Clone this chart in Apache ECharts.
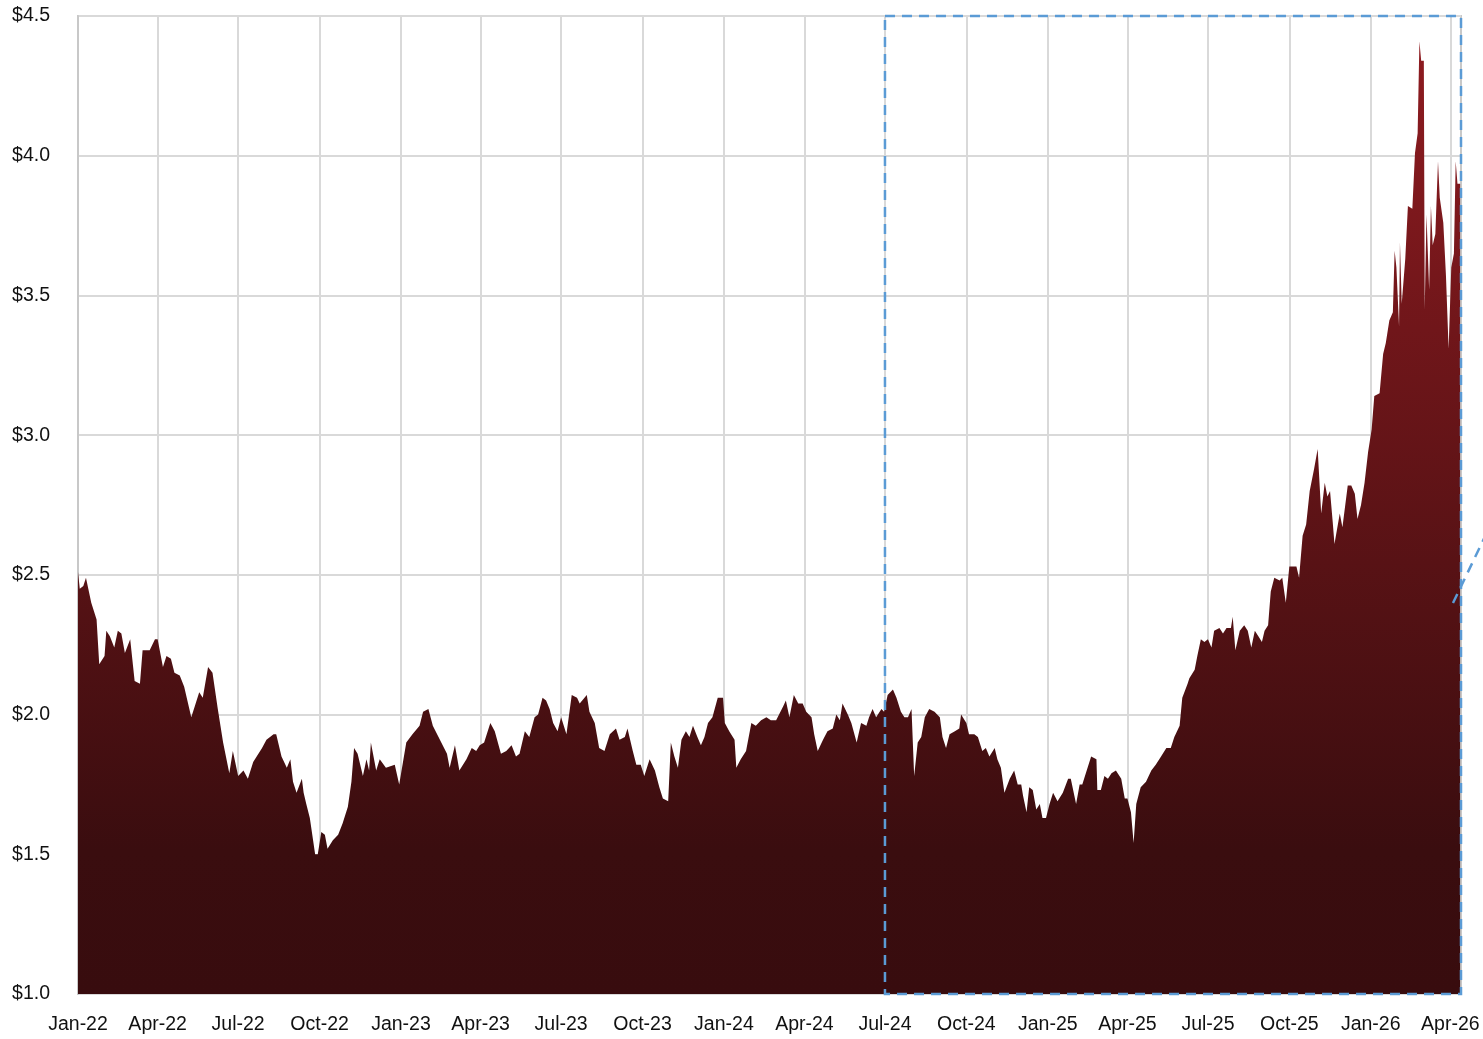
<!DOCTYPE html>
<html>
<head>
<meta charset="utf-8">
<script src="https://cdn.jsdelivr.net/npm/echarts@6/dist/echarts.min.js"></script>
<style>
  html, body { margin: 0; padding: 0; background: #fff; }
  #chart { width: 1483px; height: 1039px; }
</style>
</head>
<body>
<div id="chart"></div>
<script>
// price series
const dates = [
  '2022-01-01','2022-01-03','2022-01-07','2022-01-10','2022-01-16','2022-01-22','2022-01-25','2022-01-31','2022-02-02','2022-02-06',
  '2022-02-11','2022-02-15','2022-02-19','2022-02-23','2022-03-01','2022-03-06','2022-03-12','2022-03-15','2022-03-23','2022-03-29',
  '2022-04-01','2022-04-07','2022-04-11','2022-04-16','2022-04-20','2022-04-26','2022-05-01','2022-05-09','2022-05-13','2022-05-18',
  '2022-05-22','2022-05-28','2022-06-02','2022-06-08','2022-06-14','2022-06-21','2022-06-25','2022-07-01','2022-07-07','2022-07-12',
  '2022-07-18','2022-07-28','2022-08-02','2022-08-10','2022-08-13','2022-08-19','2022-08-25','2022-08-29','2022-09-01','2022-09-05',
  '2022-09-11','2022-09-13','2022-09-16','2022-09-20','2022-09-26','2022-09-29','2022-10-03','2022-10-07','2022-10-10','2022-10-16',
  '2022-10-22','2022-10-27','2022-11-02','2022-11-06','2022-11-09','2022-11-13','2022-11-19','2022-11-23','2022-11-26','2022-11-28',
  '2022-12-04','2022-12-08','2022-12-15','2022-12-25','2022-12-30',
  '2023-01-07','2023-01-14','2023-01-22','2023-01-26','2023-02-01','2023-02-06','2023-02-14','2023-02-22','2023-02-25','2023-03-03',
  '2023-03-08','2023-03-16','2023-03-22','2023-03-27','2023-03-31','2023-04-05','2023-04-12','2023-04-17','2023-04-24','2023-04-30',
  '2023-05-06','2023-05-11','2023-05-15','2023-05-21','2023-05-26','2023-06-01','2023-06-05','2023-06-10','2023-06-14','2023-06-18',
  '2023-06-22','2023-06-27','2023-07-01','2023-07-07','2023-07-13','2023-07-19','2023-07-22','2023-07-30','2023-08-02','2023-08-08',
  '2023-08-13','2023-08-19','2023-08-25','2023-09-01','2023-09-05','2023-09-11','2023-09-14','2023-09-20','2023-09-24','2023-09-29',
  '2023-10-03','2023-10-09','2023-10-15','2023-10-20','2023-10-24','2023-10-30','2023-11-02','2023-11-06','2023-11-10','2023-11-14',
  '2023-11-19','2023-11-23','2023-11-27','2023-12-02','2023-12-06','2023-12-10','2023-12-14','2023-12-19','2023-12-25','2023-12-31',
  '2024-01-02','2024-01-07','2024-01-13','2024-01-15','2024-01-20','2024-01-26','2024-02-01','2024-02-06','2024-02-12','2024-02-18',
  '2024-02-23','2024-02-29','2024-03-08','2024-03-11','2024-03-15','2024-03-20','2024-03-25','2024-03-30','2024-04-03','2024-04-09',
  '2024-04-12','2024-04-16','2024-04-22','2024-04-27','2024-05-03','2024-05-07','2024-05-11','2024-05-14','2024-05-20','2024-05-24',
  '2024-05-30','2024-06-04','2024-06-10','2024-06-13','2024-06-17','2024-06-21','2024-06-27','2024-06-30','2024-07-04','2024-07-10',
  '2024-07-14','2024-07-19','2024-07-23','2024-07-27','2024-07-31','2024-08-03','2024-08-07','2024-08-11','2024-08-15','2024-08-20',
  '2024-08-26','2024-09-01','2024-09-04','2024-09-08','2024-09-12','2024-09-18','2024-09-23','2024-09-25','2024-10-01','2024-10-04',
  '2024-10-10','2024-10-14','2024-10-19','2024-10-23','2024-10-27','2024-11-02','2024-11-05','2024-11-09','2024-11-13','2024-11-19',
  '2024-11-24','2024-11-28','2024-12-02','2024-12-04','2024-12-08','2024-12-11','2024-12-15','2024-12-19','2024-12-23','2024-12-26',
  '2024-12-30',
  '2025-01-03','2025-01-07','2025-01-12','2025-01-18','2025-01-24','2025-01-27','2025-02-02','2025-02-06','2025-02-09','2025-02-13',
  '2025-02-19','2025-02-25','2025-02-26','2025-03-02','2025-03-06','2025-03-10','2025-03-14','2025-03-19','2025-03-25','2025-03-29',
  '2025-04-01','2025-04-05','2025-04-08','2025-04-11','2025-04-16','2025-04-22','2025-04-28','2025-05-03','2025-05-09','2025-05-15',
  '2025-05-20','2025-05-24','2025-05-30','2025-06-02','2025-06-08','2025-06-10','2025-06-16','2025-06-19','2025-06-23','2025-06-27',
  '2025-07-01','2025-07-05','2025-07-08','2025-07-14','2025-07-18','2025-07-22','2025-07-27','2025-07-29','2025-08-01','2025-08-06',
  '2025-08-11','2025-08-15','2025-08-19','2025-08-23','2025-08-27','2025-08-31','2025-09-03','2025-09-07','2025-09-10','2025-09-14',
  '2025-09-20','2025-09-23','2025-09-27','2025-10-01','2025-10-09','2025-10-12','2025-10-16','2025-10-20','2025-10-24','2025-10-29',
  '2025-11-02','2025-11-06','2025-11-10','2025-11-13','2025-11-16','2025-11-19','2025-11-21','2025-11-23','2025-11-27','2025-11-30',
  '2025-12-02','2025-12-06','2025-12-10','2025-12-14','2025-12-17','2025-12-21','2025-12-25','2025-12-29',
  '2026-01-02','2026-01-05','2026-01-11','2026-01-15','2026-01-18','2026-01-22','2026-01-26','2026-01-28','2026-01-30','2026-02-02',
  '2026-02-03','2026-02-05','2026-02-09','2026-02-12','2026-02-17','2026-02-20','2026-02-23','2026-02-25','2026-02-27','2026-03-02',
  '2026-03-03','2026-03-05','2026-03-08','2026-03-10','2026-03-12','2026-03-15','2026-03-18','2026-03-20','2026-03-24','2026-03-27',
  '2026-03-30','2026-04-02','2026-04-05','2026-04-07','2026-04-09','2026-04-12'
]
const prices = [
  2.51,2.45,2.46,2.49,2.40,2.34,2.18,2.21,2.30,2.28,
  2.24,2.30,2.29,2.22,2.27,2.12,2.11,2.23,2.23,2.27,
  2.27,2.17,2.21,2.20,2.15,2.14,2.10,1.99,2.03,2.08,
  2.06,2.17,2.15,2.02,1.90,1.79,1.87,1.78,1.80,1.77,
  1.83,1.88,1.91,1.93,1.93,1.85,1.81,1.84,1.76,1.72,
  1.77,1.72,1.68,1.63,1.50,1.50,1.58,1.57,1.52,1.55,
  1.57,1.61,1.67,1.76,1.88,1.86,1.78,1.84,1.80,1.90,
  1.80,1.84,1.81,1.82,1.75,
  1.90,1.93,1.96,2.01,2.02,1.96,1.91,1.86,1.81,1.89,
  1.80,1.84,1.88,1.87,1.89,1.90,1.97,1.94,1.86,1.87,
  1.89,1.85,1.86,1.94,1.92,1.99,2.00,2.06,2.05,2.02,
  1.97,1.94,1.99,1.93,2.07,2.06,2.04,2.07,2.01,1.97,
  1.88,1.87,1.93,1.95,1.91,1.92,1.95,1.87,1.82,1.82,
  1.78,1.84,1.80,1.74,1.70,1.69,1.90,1.85,1.81,1.91,
  1.94,1.92,1.96,1.92,1.89,1.92,1.97,1.99,2.06,2.06,
  1.97,1.94,1.91,1.81,1.84,1.87,1.97,1.96,1.98,1.99,
  1.98,1.98,2.03,2.05,1.99,2.07,2.04,2.04,2.01,1.99,
  1.93,1.87,1.91,1.94,1.95,2.00,1.98,2.04,2.00,1.97,
  1.90,1.97,1.96,1.99,2.02,1.99,2.02,2.01,2.07,2.09,
  2.06,2.01,1.99,1.99,2.02,1.78,1.90,1.92,1.99,2.02,
  2.01,1.99,1.92,1.88,1.93,1.94,1.95,2.00,1.97,1.93,
  1.93,1.92,1.87,1.88,1.85,1.88,1.84,1.81,1.72,1.77,
  1.80,1.75,1.75,1.71,1.65,1.74,1.73,1.66,1.68,1.63,
  1.63,
  1.68,1.72,1.69,1.72,1.77,1.77,1.68,1.75,1.75,1.79,
  1.85,1.84,1.73,1.73,1.78,1.77,1.79,1.80,1.77,1.70,
  1.70,1.65,1.54,1.68,1.74,1.76,1.80,1.82,1.85,1.88,
  1.88,1.92,1.96,2.06,2.11,2.13,2.16,2.21,2.27,2.26,
  2.27,2.24,2.30,2.31,2.29,2.31,2.31,2.35,2.23,2.30,
  2.32,2.30,2.24,2.30,2.28,2.26,2.30,2.32,2.44,2.49,
  2.48,2.49,2.40,2.53,2.53,2.49,2.64,2.68,2.80,2.88,
  2.95,2.72,2.83,2.78,2.80,2.69,2.61,2.61,2.72,2.67,
  2.67,2.82,2.82,2.79,2.70,2.75,2.83,2.94,
  3.02,3.14,3.15,3.29,3.33,3.41,3.44,3.66,3.60,3.39,
  3.69,3.47,3.63,3.82,3.81,4.01,4.08,4.41,4.34,4.34,
  3.45,3.79,3.52,3.82,3.68,3.72,3.98,3.85,3.76,3.57,
  3.31,3.60,3.65,3.98,3.90,3.90
]
// quarter starts used for ticks, grid lines and labels
const tickDates = [
  '2022-01-01','2022-04-01','2022-07-01','2022-10-01','2023-01-01','2023-04-01','2023-07-01','2023-10-01',
  '2024-01-01','2024-04-01','2024-07-01','2024-10-01','2025-01-01','2025-04-01','2025-07-01','2025-10-01',
  '2026-01-01','2026-04-01'
]
const monthNames = ['Jan','Feb','Mar','Apr','May','Jun','Jul','Aug','Sep','Oct','Nov','Dec']
const xStart = '2022-01-01'
const xEnd = '2026-04-13'
const boxStart = '2024-07-01'

const toTime = s => new Date(s + 'T00:00:00').getTime()
const tickValues = tickDates.map(toTime)

const chart = echarts.init(document.getElementById('chart'))
const font = 'Liberation Sans, Arial, sans-serif'

const option = {
  animation: false,
  grid: { left: 78, right: 22, top: 16, bottom: 45, show: true, borderColor: '#c8c8c8', borderWidth: 2 },
  xAxis: {
    type: 'value',
    min: toTime(xStart),
    max: toTime(xEnd),
    axisLine: { show: false },
    axisTick: { show: false, customValues: tickValues },
    splitLine: { show: true, lineStyle: { color: '#d9d9d9', width: 2 } },
    axisLabel: {
      customValues: tickValues,
      color: '#111',
      fontSize: 19.5,
      fontFamily: font,
      margin: 21,
      formatter: v => {
        const d = new Date(v)
        return monthNames[d.getMonth()] + '-' + String(d.getFullYear()).slice(2)
      }
    }
  },
  yAxis: {
    type: 'value',
    min: 1,
    max: 4.5,
    interval: 0.5,
    axisLine: { show: true, lineStyle: { color: '#c8c8c8', width: 2 } },
    axisTick: { show: false },
    splitLine: { lineStyle: { color: '#d9d9d9', width: 2 } },
    axisLabel: {
      color: '#111',
      fontSize: 19.5,
      fontFamily: font,
      margin: 28,
      formatter: v => '$' + v.toFixed(1)
    }
  },
  series: [
    {
      type: 'line',
      data: dates.map((d, i) => [toTime(d), prices[i]]),
      showSymbol: false,
      sampling: 'none',
      lineStyle: { width: 0 },
      areaStyle: {
        opacity: 1,
        color: new echarts.graphic.LinearGradient(0, 0, 0, 1, [
          { offset: 0, color: '#8e1b20' },
          { offset: 0.85, color: '#3a0d0f' },
          { offset: 1, color: '#380c0e' }
        ])
      }
    },
    {
      // dashed highlight box, drawn over the area
      type: 'line',
      data: [],
      z: 10,
      markArea: {
        silent: true,
        z: 10,
        itemStyle: { color: 'transparent', borderColor: '#5b9bd5', borderWidth: 2.5, borderType: [10, 7] },
        data: [[{ xAxis: toTime(boxStart), yAxis: 4.5 }, { xAxis: toTime(xEnd), yAxis: 1.0 }]]
      }
    }
  ],
  graphic: [
    {
      type: 'line',
      z: 100,
      shape: { x1: 1453, y1: 603, x2: 1492, y2: 522 },
      style: { stroke: '#5b9bd5', lineWidth: 2.5, lineDash: [10, 7] }
    }
  ]
}
chart.setOption(option)
</script>
</body>
</html>
